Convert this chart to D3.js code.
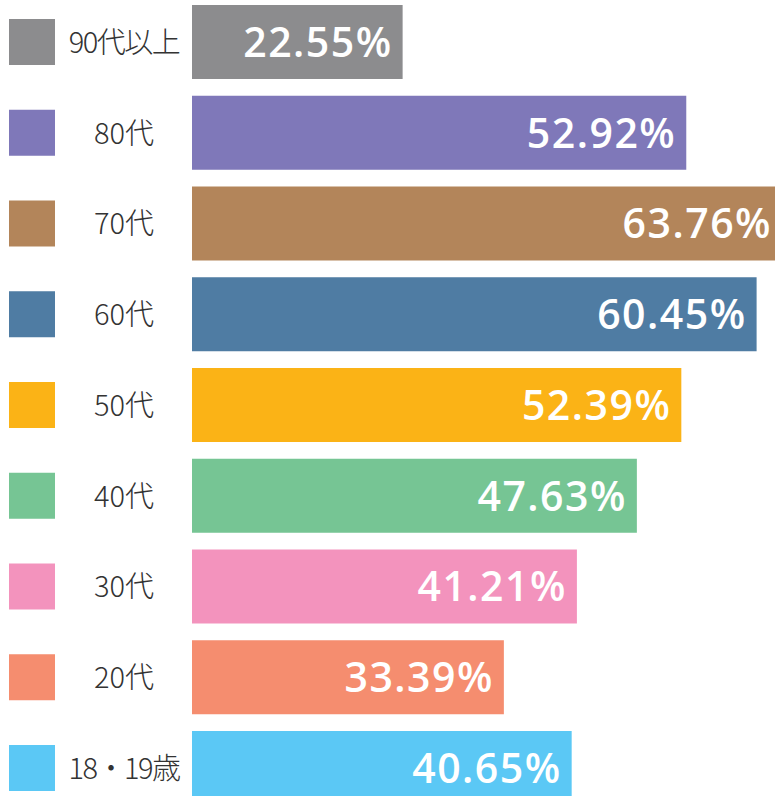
<!DOCTYPE html>
<html>
<head>
<meta charset="utf-8">
<script src="https://cdn.jsdelivr.net/npm/d3@7"></script>
<style>
  body { margin: 0; background: #fff; }
  svg { display: block; }
</style>
</head>
<body>
<div id="chart"></div>
<script>
const categories = ["90代以上", "80代", "70代", "60代", "50代", "40代", "30代", "20代", "18・19歳"];
const values = [22.55, 52.92, 63.76, 60.45, 52.39, 47.63, 41.21, 33.39, 40.65];
const colors = ["#8c8c8e", "#7f78b9", "#b3855a", "#4f7ca3", "#fbb316", "#76c594", "#f393bd", "#f58d6f", "#5bc8f5"];

const width = 775, height = 796;
const data = categories.map((c, i) => ({ label: c, value: values[i], color: colors[i] }));

const svg = d3.select("#chart")
    .append("svg")
    .attr("width", width)
    .attr("height", height);

// scales
const yScale = d3.scaleBand()
    .domain(categories)
    .range([5, 5 + 8 * 90.75 + 74])
    .paddingInner(0.1846)
    .paddingOuter(0);

const xScale = d3.scaleLinear()
    .domain([0, 100])
    .range([192, 192 + 934]);

const rows = svg.selectAll(".row")
    .data(data)
    .join("g")
    .attr("class", "row")
    .attr("transform", d => `translate(0, ${yScale(d.label)})`);

// colour squares
rows.append("rect")
    .attr("x", 9)
    .attr("y", (yScale.bandwidth() - 46) / 2)
    .attr("width", 46)
    .attr("height", 46)
    .attr("fill", d => d.color);

// category labels
rows.append("text")
    .attr("x", 124)
    .attr("y", yScale.bandwidth() / 2 + 11)
    .attr("text-anchor", "middle")
    .style("font-family", "'Noto Sans CJK JP', 'Noto Sans', sans-serif")
    .style("font-weight", 300)
    .style("font-size", "29px")
    .style("letter-spacing", d => d.label.length > 4 ? "-1.5px" : "0px")
    .style("fill", "#333")
    .text(d => d.label);

// bars
rows.append("rect")
    .attr("x", xScale(0))
    .attr("y", 0)
    .attr("width", d => xScale(d.value) - xScale(0))
    .attr("height", yScale.bandwidth())
    .attr("fill", d => d.color);

// value labels
rows.append("text")
    .attr("x", d => Math.min(xScale(d.value) - 10, width - 3))
    .attr("y", yScale.bandwidth() / 2 + 15)
    .attr("text-anchor", "end")
    .style("font-family", "'Open Sans', Lato, sans-serif")
    .style("font-weight", 600)
    .style("font-size", "41px")
    .style("letter-spacing", "1.5px")
    .style("fill", "#fff")
    .text(d => d.value.toFixed(2) + "%");
</script>
</body>
</html>
